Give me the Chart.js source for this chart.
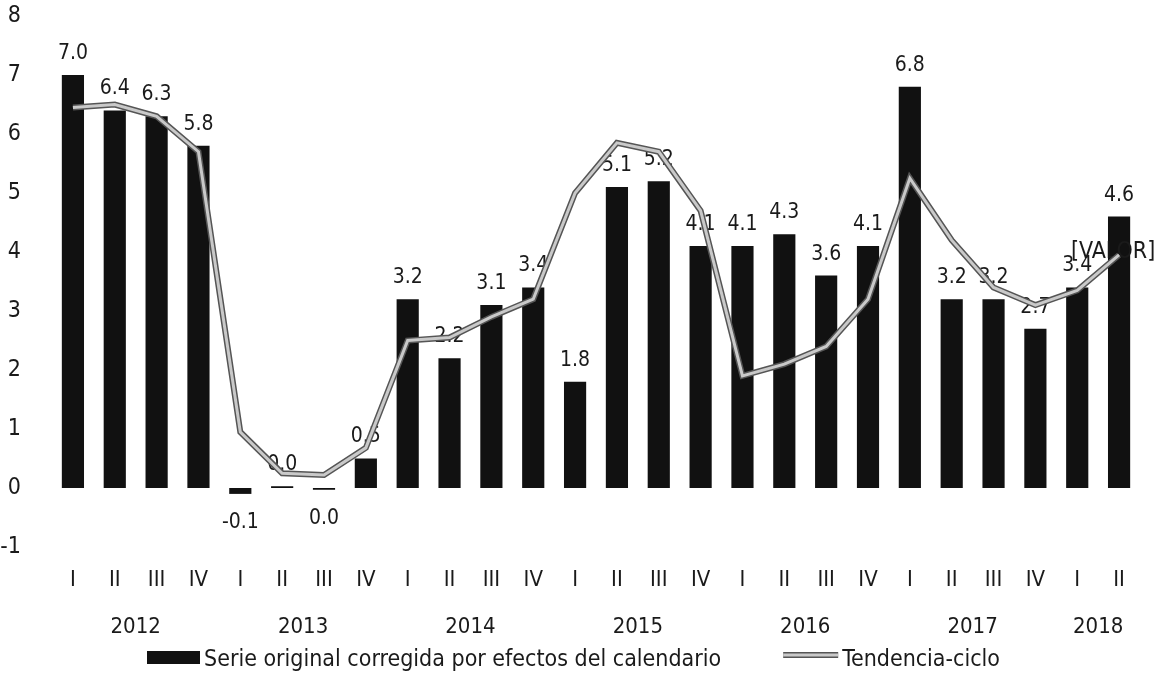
<!DOCTYPE html>
<html>
<head>
<meta charset="utf-8">
<script src="https://cdn.jsdelivr.net/npm/chart.js@4.4.1/dist/chart.umd.min.js"></script>
<style>
  body { margin: 0; background: #fff; }
  #wrap { width: 1166px; height: 675px; position: relative; }
</style>
</head>
<body>
<div id="wrap"><canvas id="myChart"></canvas></div>
<script>
const quarters = ['I','II','III','IV','I','II','III','IV','I','II','III','IV','I','II','III','IV',
  'I','II','III','IV','I','II','III','IV','I','II'];
const years = ['2012','2013','2014','2015','2016','2017','2018'];
const serie = [7.0, 6.4, 6.3, 5.8, -0.1, 0.03, -0.03, 0.5, 3.2, 2.2, 3.1, 3.4, 1.8, 5.1, 5.2, 4.1,
  4.1, 4.3, 3.6, 4.1, 6.8, 3.2, 3.2, 2.7, 3.4, 4.6];
const tendencia = [6.45, 6.5, 6.3, 5.7, 0.95, 0.25, 0.22, 0.68, 2.5, 2.55, 2.9, 3.2, 5.0, 5.85, 5.7, 4.7,
  1.9, 2.1, 2.4, 3.2, 5.25, 4.2, 3.4, 3.1, 3.35, 3.95];
const legendNames = ['Serie original corregida por efectos del calendario', 'Tendencia-ciclo'];

const FONT = "'Liberation Sans Narrow', 'DejaVu Sans Condensed', sans-serif";
const TXT = '#1a1a1a';

// value labels, year row and legend
const extras = {
  id: 'extras',
  afterDatasetDraw(chart, args) {
    if (args.index !== 0) return;
    const ctx = chart.ctx;
    ctx.save();
    ctx.fillStyle = TXT;
    ctx.font = '21px ' + FONT;
    ctx.textAlign = 'center';
    args.meta.data.forEach((bar, i) => {
      const v = serie[i];
      let txt = v.toFixed(1);
      if (txt === '-0.0') txt = '0.0';
      if (v < 0) {
        ctx.textBaseline = 'top';
        ctx.fillText(txt, bar.x, bar.y + 18);
      } else {
        ctx.textBaseline = 'bottom';
        ctx.fillText(txt, bar.x, bar.y - 11);
      }
    });
    const lm = chart.getDatasetMeta(1);
    const p = lm.data[lm.data.length - 1];
    ctx.font = '23px ' + FONT;
    ctx.textBaseline = 'middle';
    ctx.fillText('[VALOR]', p.x - 6, p.y - 3);
    ctx.restore();
  },
  afterDraw(chart) {
    const ctx = chart.ctx;
    const xs = chart.scales.x;
    ctx.save();
    ctx.fillStyle = TXT;
    ctx.font = '22px ' + FONT;
    ctx.textAlign = 'center';
    ctx.textBaseline = 'middle';
    years.forEach((y, k) => {
      const a = 4 * k;
      const b = Math.min(a + 3, quarters.length - 1);
      ctx.fillText(y, (xs.getPixelForValue(a) + xs.getPixelForValue(b)) / 2, 627);
    });

    // legend
    ctx.font = '23px ' + FONT;
    ctx.textAlign = 'left';
    let x = 147;
    ctx.fillStyle = '#111';
    ctx.fillRect(x, 651, 53, 13);
    ctx.fillStyle = TXT;
    ctx.fillText(legendNames[0], x + 57, 660);
    x = x + 57 + ctx.measureText(legendNames[0]).width + 62;
    ctx.lineCap = 'butt';
    ctx.strokeStyle = '#555';
    ctx.lineWidth = 6;
    ctx.beginPath(); ctx.moveTo(x, 655); ctx.lineTo(x + 55, 655); ctx.stroke();
    ctx.strokeStyle = '#c9c9c9';
    ctx.lineWidth = 3;
    ctx.beginPath(); ctx.moveTo(x, 655); ctx.lineTo(x + 55, 655); ctx.stroke();
    ctx.fillStyle = TXT;
    ctx.fillText(legendNames[1], x + 59, 660);
    ctx.restore();
  }
};

const ctx = document.getElementById('myChart');
new Chart(ctx, {
  data: {
    labels: quarters,
    datasets: [
      {
        type: 'bar',
        label: legendNames[0],
        data: serie,
        backgroundColor: '#111',
        categoryPercentage: 1,
        barPercentage: 0.53,
        order: 3
      },
      {
        type: 'line',
        label: legendNames[1],
        data: tendencia,
        borderColor: '#555',
        borderWidth: 6,
        pointRadius: 0,
        tension: 0,
        order: 2
      },
      {
        type: 'line',
        label: legendNames[1],
        data: tendencia,
        borderColor: '#c9c9c9',
        borderWidth: 3,
        pointRadius: 0,
        tension: 0,
        order: 1
      }
    ]
  },
  options: {
    responsive: true,
    maintainAspectRatio: false,
    animation: false,
    layout: { padding: { top: 16, right: 26, bottom: 82, left: 0 } },
    plugins: {
      legend: { display: false },
      tooltip: { enabled: false }
    },
    scales: {
      x: {
        grid: { display: false, drawTicks: false },
        border: { display: false },
        ticks: { color: TXT, font: { family: FONT, size: 22 }, padding: 20, maxRotation: 0, autoSkip: false },
        afterFit(scale) { scale.height = 46; }
      },
      y: {
        min: -1,
        max: 8,
        grid: { display: false, drawTicks: false },
        border: { display: false },
        ticks: { color: TXT, font: { family: FONT, size: 23 }, stepSize: 1, padding: 31 },
        afterFit(scale) {
          scale.width = 52;
          scale.paddingTop = 0;
          scale.paddingBottom = 0;
        }
      }
    }
  },
  plugins: [extras]
});
</script>
</body>
</html>
